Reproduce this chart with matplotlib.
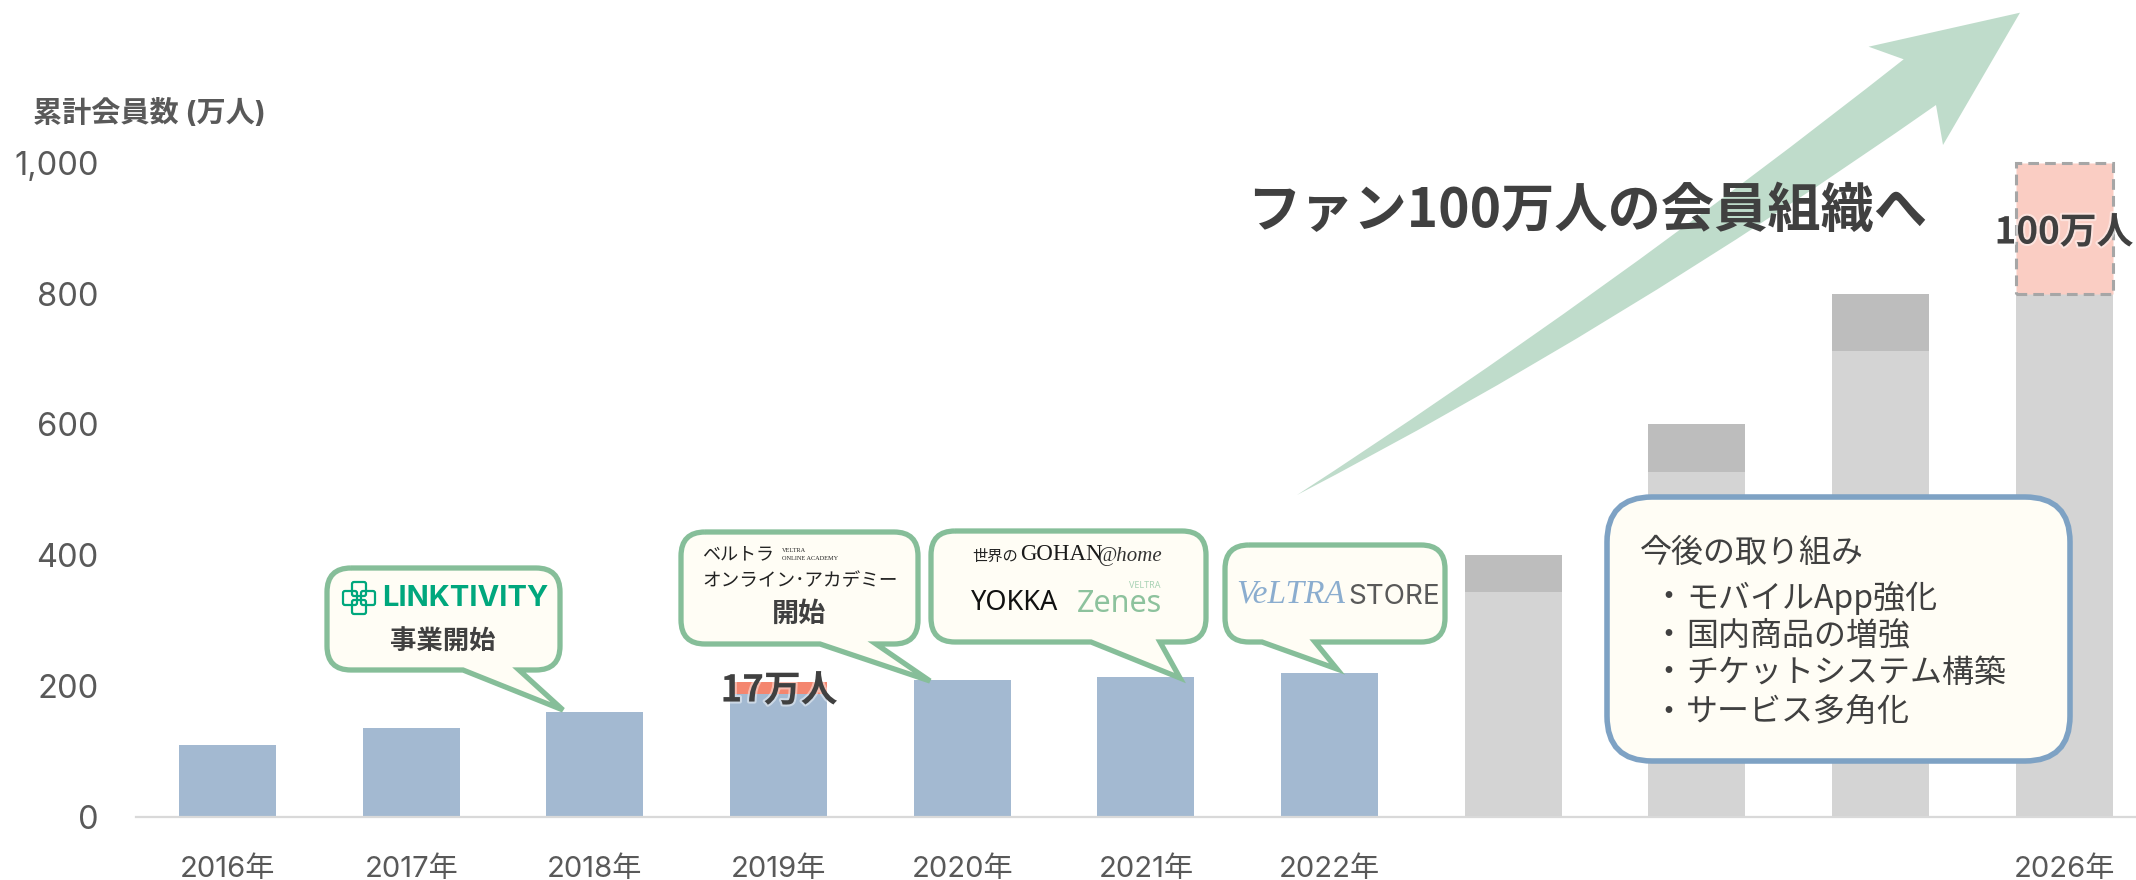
import matplotlib
matplotlib.use('Agg')
import matplotlib.pyplot as plt
import matplotlib.patheffects as pe
from matplotlib.path import Path
from matplotlib.patches import PathPatch, FancyBboxPatch
import numpy as np

CJK = 'Noto Sans CJK JP'
plt.rcParams['font.family'] = ['Inter', CJK, 'DejaVu Sans']

# data
years = ['2016年', '2017年', '2018年', '2019年', '2020年', '2021年', '2022年', '', '', '', '2026年']
yticks = [0, 200, 400, 600, 800, 1000]
actual = np.array([110, 136, 160, 188, 209, 214, 220, 0, 0, 0, 0])
added_2019 = np.array([0, 0, 0, 18, 0, 0, 0, 0, 0, 0, 0])
plan_base = np.array([0, 0, 0, 0, 0, 0, 0, 344, 527, 713, 800])
plan_top = np.array([0, 0, 0, 0, 0, 0, 0, 56, 73, 87, 0])
target = np.array([0, 0, 0, 0, 0, 0, 0, 0, 0, 0, 200])
todo = ['モバイルApp強化', '国内商品の増強', 'チケットシステム構築', 'サービス多角化']

TXT = '#404040'
TICK = '#595959'
GREEN = '#86BE99'
FILL = '#FFFDF5'

fig = plt.figure(figsize=(21.36, 8.8), dpi=100)
ax = fig.add_axes([136 / 2136, (880 - 816.7) / 880, 2000 / 2136, 653.7 / 880])
x = np.arange(len(years))
w = 0.528


def bars(vals, bottom=0, **kw):
    # skip the empty years so dashed edges only show where there is a bar
    keep = vals > 0
    b = bottom[keep] if np.ndim(bottom) else bottom
    ax.bar(x[keep], vals[keep], w, bottom=b, **kw)


bars(actual, color='#A3B9D1')
bars(added_2019, bottom=actual, color='#F4866F')
bars(plan_base, color='#D4D4D4')
bars(plan_top, bottom=plan_base, color='#BDBDBD')
bars(target, bottom=plan_base, color='#FACDC3', edgecolor='#A6A6A6',
     linestyle=(0, (3.5, 2)), linewidth=2.2, clip_on=False)
ax.set_xlim(-0.498, 10.39)
ax.set_ylim(0, 1000)
ax.set_xticks(x)
ax.set_xticklabels(years, fontsize=21, color=TICK)
ax.set_yticks(yticks)
ax.set_yticklabels([f'{v:,}' for v in yticks], fontsize=23.5, color=TICK)
ax.tick_params(axis='x', length=0, pad=28)
ax.tick_params(axis='y', length=0, pad=27)
for s in ['top', 'left', 'right']:
    ax.spines[s].set_visible(False)
ax.spines['bottom'].set_color('#D9D9D9')
ax.spines['bottom'].set_linewidth(1.6)

# overlay in pixels for arrow, callouts and logos
ov = fig.add_axes([0, 0, 1, 1])
ov.set_xlim(0, 2136)
ov.set_ylim(880, 0)
ov.axis('off')
ov.patch.set_alpha(0)


def bubble(l, r, t, b, tl, tr, tip, rad=24):
    M, L, Q = Path.MOVETO, Path.LINETO, Path.CURVE3
    v = [(l + rad, t), (r - rad, t), (r, t), (r, t + rad), (r, b - rad), (r, b), (r - rad, b),
         (tr, b), tip, (tl, b), (l + rad, b), (l, b), (l, b - rad), (l, t + rad), (l, t), (l + rad, t)]
    c = [M, L, Q, Q, L, Q, Q, L, L, L, L, Q, Q, L, Q, Q]
    ov.add_patch(PathPatch(Path(v, c), fc=FILL, ec=GREEN, lw=3.8, joinstyle='miter'))


def label(px, py, s, size, color=TXT, ha='center', **kw):
    if 'family' not in kw:
        kw['family'] = [CJK, 'DejaVu Sans']
        py += 3
    return ov.text(px, py, s, fontsize=size, color=color, ha=ha, va='center', **kw)


# growth arrow
M, L, Q = Path.MOVETO, Path.LINETO, Path.CURVE3
arrow = [(1297, 495), (1602, 297), (1903.7, 59.3), (1868.6, 46.7), (2020, 12.7), (1943, 145),
         (1936, 105), (1618, 328), (1297, 495)]
ov.add_patch(PathPatch(Path(arrow, [M, Q, Q, L, L, L, L, Q, Q]), fc='#BFDCCB', ec='none'))

label(1247, 208, 'ファン100万人の会員組織へ', 38.3, ha='left', weight='bold')
label(33, 114, '累計会員数 (万人)', 21, color=TICK, ha='left', weight='bold',
      family=['Inter', CJK])

glow = [pe.withStroke(linewidth=3, foreground='white', alpha=0.45)]
label(779, 688, '17万人', 26.5, weight='bold', path_effects=glow)
label(2064, 230, '100万人', 26.5, weight='bold', path_effects=glow)

# callouts
bubble(327, 560, 568, 670, 463, 519, (563, 710))
bubble(681, 918, 532, 644, 820, 876, (930, 681))
bubble(931, 1206, 531, 642, 1091, 1160, (1180, 678))
bubble(1225, 1445, 545, 642, 1262, 1315, (1337, 669))

# LINKTIVITY logo
LK = '#00A77D'
for dx, dy in [(-9, 0), (9, 0), (0, -9), (0, 9)]:
    ov.add_patch(FancyBboxPatch((359 + dx - 5, 598 + dy - 5), 10, 10, boxstyle='round,pad=2', fc='none', ec=LK, lw=1.6))
label(465, 598, 'LINKTIVITY', 21, color=LK, weight='bold', family=['Inter'])
label(443, 638, '事業開始', 19, weight='bold')

# online academy logo
label(738, 551, 'ベルトラ', 13, color='#222222')
label(782, 550, 'VELTRA', 4.5, color='#222222', ha='left', family=['Liberation Serif'])
label(782, 558, 'ONLINE ACADEMY', 4.5, color='#222222', ha='left', family=['Liberation Serif'])
label(800, 578, 'オンライン･アカデミー', 13.4, color='#222222')
label(799, 611, '開始', 19.5, weight='bold')

# gohan / yokka / zenes logos
label(995, 553, '世界の', 11, color='#222222')
label(1020, 555, 'GOHAN', 16.5, color='#1A1A1A', ha='left', family=['Liberation Serif'])
label(1098, 557, '@home', 15, color='#333333', ha='left', family=['Liberation Serif'], style='italic')
label(1015, 603, 'YOKKA', 19.5, color='#111111', family=['Noto Sans'])
label(1120, 604, 'Zenes', 22, color='#8DC29D', family=['Noto Sans'])
label(1145, 585, 'VELTRA', 6.5, color='#A9D3B6', family=['Noto Sans'])

# store logo
label(1291, 594, 'VeLTRA', 24, color='#8BADCF', family=['Liberation Serif'], style='italic')
label(1394, 597, 'STORE', 20, color='#595959', family=['Inter'])

# plans box
ov.add_patch(FancyBboxPatch((1607, 497), 463, 264, boxstyle='round,pad=0,rounding_size=45',
                            fc=FILL, ec='#7EA2C4', lw=4, zorder=3))
label(1640, 550, '今後の取り組み', 23, ha='left', zorder=4)
for py, s in zip([595, 633, 670, 710], todo):
    label(1668, py, '・', 23, zorder=4)
    label(1686, py, s, 23, ha='left', zorder=4)

fig.savefig('out.png', dpi=100)
